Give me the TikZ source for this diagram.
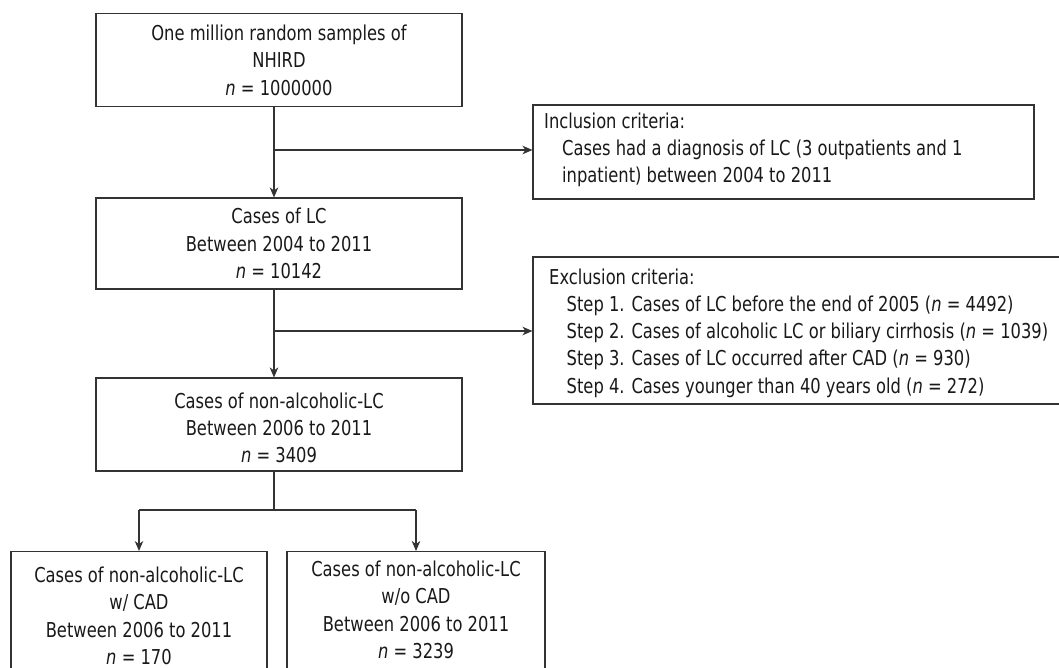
\documentclass[tikz,border=0pt]{standalone}
\usepackage{fontspec}
\setmainfont[FakeStretch=0.885]{DejaVu Sans Condensed}
\usetikzlibrary{arrows.meta}
\begin{document}
\begin{tikzpicture}[x=1pt,y=-1pt,
  font=\fontsize{20.5}{27.3}\selectfont,
  box/.style={draw=black!80, line width=1.1pt, rectangle, inner sep=0pt, align=center, text=black!90},
  txt/.style={inner sep=0pt, align=left, text=black!90},
  arr/.style={draw=black!80, line width=1.1pt, -{Stealth[length=10pt,width=8.5pt,inset=3pt]}},
  ln/.style={draw=black!80, line width=1.1pt}]
\useasboundingbox (0,0) rectangle (1059,668);
\clip (0,0) rectangle (1059,668);
% main boxes
\node[box, minimum width=366pt, minimum height=93pt] (b1) at (279,60.3)
  {One million random samples of\\NHIRD\\\textit{n} = 1000000};
\node[box, minimum width=366pt, minimum height=91pt] (b2) at (279,243.5)
  {Cases of LC\\Between 2004 to 2011\\\textit{n} = 10142};
\node[box, minimum width=366pt, minimum height=93pt] (b3) at (279,424.5) {};
\node[txt, align=center] (b3t) at (279,428)
  {Cases of non-alcoholic-LC\\Between 2006 to 2011\\\textit{n} = 3409};
% criteria boxes
\node[box, minimum width=501pt, minimum height=94pt] (inc) at (783.5,152) {};
\node[txt, anchor=west] (inct) at (544,150)
  {Inclusion criteria:\\
   \hspace*{18pt}Cases had a diagnosis of LC (3 outpatients and 1\\
   \hspace*{18pt}inpatient) between 2004 to 2011};
\node[box, minimum width=542pt, minimum height=147pt] (exc) at (804,330.5) {};
\node[txt, anchor=west] (exct) at (549,333)
  {Exclusion criteria:\\
   \hspace*{17.5pt}Step 1. Cases of LC before the end of 2005 (\textit{n} = 4492)\\
   \hspace*{17.5pt}Step 2. Cases of alcoholic LC or biliary cirrhosis (\textit{n} = 1039)\\
   \hspace*{17.5pt}Step 3. Cases of LC occurred after CAD (\textit{n} = 930)\\
   \hspace*{17.5pt}Step 4. Cases younger than 40 years old (\textit{n} = 272)};
% bottom boxes
\node[box, minimum width=256pt, minimum height=140pt, anchor=north] (b4) at (139,551) {};
\node[txt, align=center] (b4t) at (139,616)
  {Cases of non-alcoholic-LC\\w/ CAD\\Between 2006 to 2011\\\textit{n} = 170};
\node[box, minimum width=258pt, minimum height=140pt, anchor=north] (b5) at (416,551) {};
\node[txt, align=center] (b5t) at (416,610)
  {Cases of non-alcoholic-LC\\w/o CAD\\Between 2006 to 2011\\\textit{n} = 3239};
% connectors
\coordinate (sp) at (274,0);
\coordinate (j1) at (274,150);
\coordinate (j2) at (274,331);
\coordinate (j3) at (274,510);
\draw[arr] (b1.south -| sp) -- (b2.north -| sp);
\draw[arr] (j1) -- (j1 -| inc.west);
\draw[arr] (b2.south -| sp) -- (b3.north -| sp);
\draw[arr] (j2) -- (j2 -| exc.west);
\draw[ln] (b3.south -| sp) -- (j3);
\draw[ln] (j3 -| b4.north) -- (j3 -| b5.north);
\draw[arr] (j3 -| b4.north) -- (b4.north);
\draw[arr] (j3 -| b5.north) -- (b5.north);
\end{tikzpicture}
\end{document}
